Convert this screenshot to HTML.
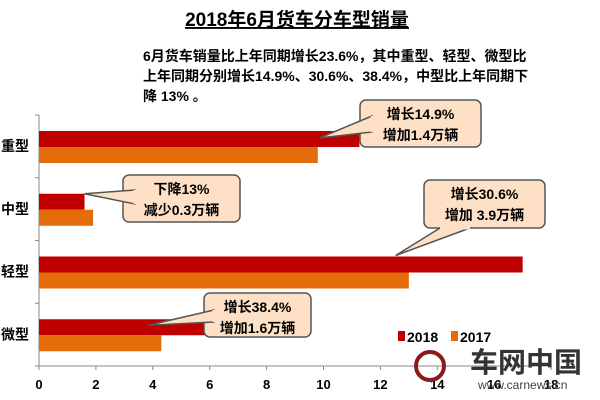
<!DOCTYPE html>
<html><head><meta charset="utf-8">
<style>
body{margin:0;width:600px;height:400px;overflow:hidden;background:#fff;font-family:"Liberation Sans","Noto Sans CJK SC",sans-serif;}
svg{display:block}
</style></head><body>
<svg id="chart" width="600" height="400" xmlns="http://www.w3.org/2000/svg">
<text x="297" y="26" text-anchor="middle" font-size="19" font-weight="bold" text-decoration="underline" font-family="Liberation Sans, Noto Sans CJK SC, sans-serif">2018年6月货车分车型销量</text>
<g font-size="14" font-weight="bold" font-family="Liberation Sans, Noto Sans CJK SC, sans-serif">
<text x="143" y="61">6月货车销量比上年同期增长23.6%，其中重型、轻型、微型比</text>
<text x="143" y="81">上年同期分别增长14.9%、30.6%、38.4%，中型比上年同期下</text>
<text x="143" y="101">降 13% 。</text>
</g>
<g id="plot"></g>
</svg>
<script>
const categories=["重型","中型","轻型","微型"];
const values2018=[11.26,1.6,17.0,5.95];
const values2017=[9.8,1.9,13.0,4.3];
const xTicks=[0,2,4,6,8,10,12,14,16,18];
const calloutLines=[["增长14.9%","增加1.4万辆"],["下降13%","减少0.3万辆"],["增长30.6%","增加 3.9万辆"],["增长38.4%","增加1.6万辆"]];
const NS="http://www.w3.org/2000/svg";
const g=document.getElementById('plot');
const X0=39,UNIT=28.45,TOP=115,BAND=62.75;
const xs=v=>X0+v*UNIT;
const bandY=i=>TOP+i*BAND;
function mk(t,a){const e=document.createElementNS(NS,t);for(const k in a)e.setAttribute(k,a[k]);g.appendChild(e);return e;}
// axes
let ax=mk('line',{x1:X0,y1:TOP,x2:X0,y2:TOP+4*BAND,stroke:'#888','stroke-width':1});


let bx=mk('line',{x1:X0,y1:TOP+4*BAND,x2:xs(18),y2:TOP+4*BAND,stroke:'#888','stroke-width':1});


for(let i=0;i<=4;i++){const t=mk('line',{x1:X0-4,y1:bandY(i),x2:X0,y2:bandY(i),stroke:'#888'});

}
xTicks.forEach(v=>{const t=mk('line',{x1:xs(v),y1:TOP+4*BAND,x2:xs(v),y2:TOP+4*BAND+4,stroke:'#888'});


const l=mk('text',{x:xs(v),y:389,'text-anchor':'middle','font-size':13,'font-weight':'bold'});l.textContent=v;

});
categories.forEach((c,i)=>{
const y=bandY(i);
const l=mk('text',{x:1,y:y+36,'font-size':14,'font-weight':'bold'});l.textContent=c;


const b1=mk('rect',{x:X0,y:y+16,width:xs(values2018[i])-X0,height:16,fill:'#c00000'});


const b2=mk('rect',{x:X0,y:y+32,width:xs(values2017[i])-X0,height:16,fill:'#e46c0a'});


});
// callouts: box x,y,w,h, tail target derived from bar
const boxes=[[360,100,121,47],[123,175,117,47],[424,180,121,48],[204,293,107,44]];
const tails=[[xs(values2018[0])-40,bandY(0)+23,372,116,372,132],[xs(values2018[1]),bandY(1)+16,135,190,135,204],[xs(values2018[2])-127,bandY(2)+15,440,228,470,228],[xs(values2018[3])-60,bandY(3)+22,214,310,214,322]];
boxes.forEach((b,i)=>{
const [x,y,w,h]=b,t=tails[i];
const r=mk('rect',{x,y,width:w,height:h,rx:6,fill:'#fde0c6',stroke:'#555','stroke-width':1.5});


const p=mk('polygon',{points:`${t[2]},${t[3]} ${t[0]},${t[1]} ${t[4]},${t[5]}`,fill:'#fde0c6',stroke:'#555','stroke-width':1.5});


const cov=mk('line',{x1:t[2],y1:t[3],x2:t[4],y2:t[5],stroke:'#fde0c6','stroke-width':3});


calloutLines[i].forEach((s,j)=>{const tx=mk('text',{x:x+w/2,y:y+19+j*21,'text-anchor':'middle','font-size':14,'font-weight':'bold'});tx.textContent=s;

});
});
// legend
[['2018','#c00000',398],['2017','#e46c0a',451]].forEach(l=>{
const r=mk('rect',{x:l[2],y:331,width:7,height:10,fill:l[1]});


const t=mk('text',{x:l[2]+9,y:342,'font-size':14,'font-weight':'bold'});t.textContent=l[0];

});
// watermark
const w1=mk('text',{x:470,y:372,'font-size':28,'font-weight':'bold',fill:'#333'});w1.textContent='车网中国';


const w2=mk('text',{x:478,y:389,'font-size':12,fill:'#444'});w2.textContent='www.carnews.cn';


const w3=mk('circle',{cx:430,cy:366,r:14,fill:'none',stroke:'#8b1a1a','stroke-width':4});


</script>
</body></html>
